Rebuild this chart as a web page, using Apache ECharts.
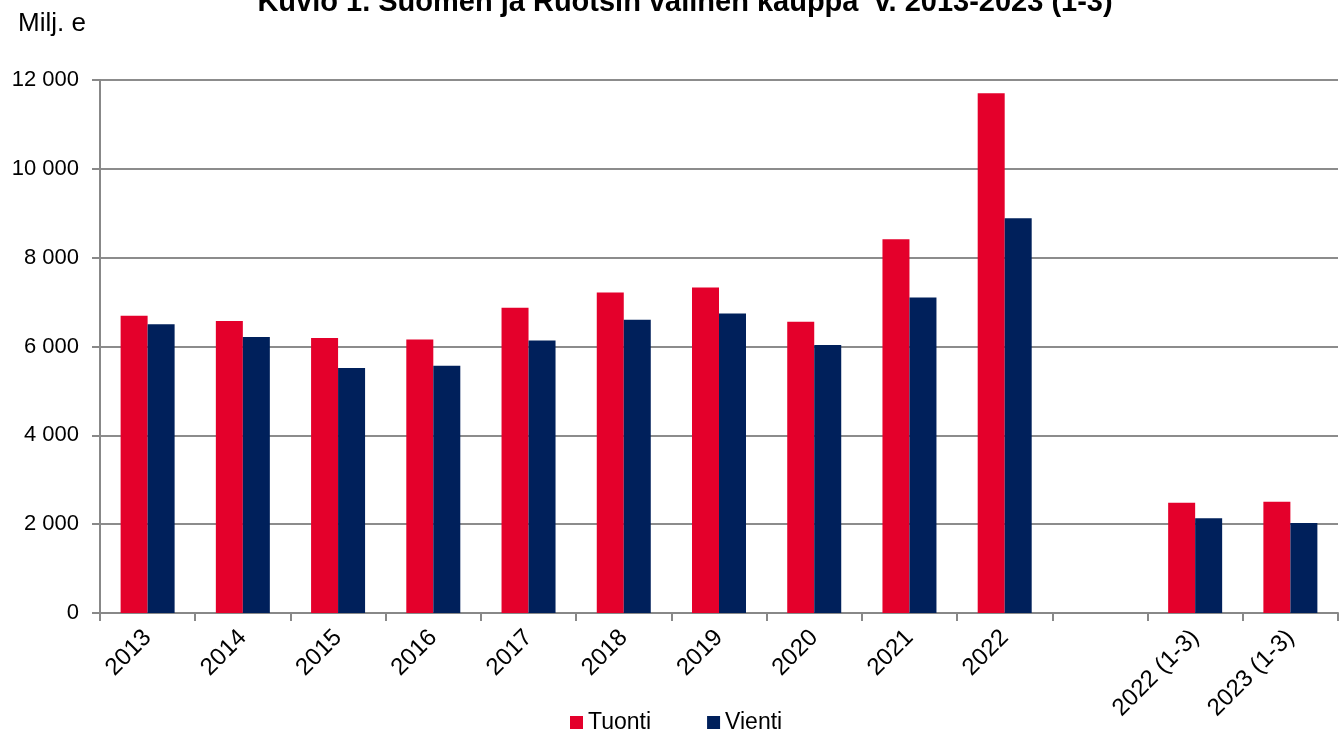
<!DOCTYPE html>
<html><head><meta charset="utf-8">
<script src="https://cdn.jsdelivr.net/npm/echarts@6/dist/echarts.min.js"></script>
<style>html,body{margin:0;padding:0;background:#fff}#c{width:1344px;height:735px}</style>
</head><body><div id="c"></div>
<script>
const categories = ['2013','2014','2015','2016','2017','2018','2019','2020','2021','2022','','2022 (1-3)','2023 (1-3)'];
const tuonti = [6690, 6575, 6190, 6155, 6870, 7215, 7330, 6555, 8415, 11700, '-', 2480, 2505];
const vienti = [6500, 6215, 5515, 5565, 6135, 6600, 6745, 6035, 7105, 8885, '-', 2135, 2025];
const yTicks = [0, 2000, 4000, 6000, 8000, 10000, 12000];

const FONT = 'Liberation Sans, Arial, sans-serif';
const chart = echarts.init(document.getElementById('c'));
const fmt = v => String(v).replace(/\B(?=(\d{3})+(?!\d))/g, ' ');
chart.setOption({
  animation: false,
  textStyle: { fontFamily: FONT },
  title: {
    text: 'Kuvio 1. Suomen ja Ruotsin välinen kauppa  v. 2013-2023 (1-3)',
    left: 680, textAlign: 'center', top: -17,
    textStyle: { fontSize: 29, fontWeight: 'bold', color: '#000', fontFamily: FONT }
  },
  graphic: [{ type: 'text', left: 18, top: 11, style: { text: 'Milj. e', fontSize: 26, fill: '#000', fontFamily: FONT } }],
  legend: {
    bottom: -4, left: 565, itemGap: 56, itemWidth: 13, itemHeight: 13, icon: 'rect',
    textStyle: { fontSize: 23, color: '#000', fontFamily: FONT },
    data: ['Tuonti', 'Vienti']
  },
  grid: { left: 100, right: 6, top: 80, bottom: 122 },
  xAxis: {
    type: 'category', data: categories,
    axisLine: { lineStyle: { color: '#888', width: 2 } },
    axisTick: { show: true, length: 8, lineStyle: { color: '#888', width: 2 } },
    axisLabel: { rotate: 45, fontSize: 24, color: '#000', margin: 21, interval: 0, fontFamily: FONT }
  },
  yAxis: {
    type: 'value', min: 0, max: 12000, interval: 2000,
    axisLine: { show: true, lineStyle: { color: '#888', width: 2 } },
    axisTick: { show: true, length: 8, lineStyle: { color: '#888', width: 2 } },
    splitLine: { lineStyle: { color: '#8c8c8c', width: 2 } },
    axisLabel: { fontSize: 22, color: '#000', margin: 21, fontFamily: FONT, formatter: v => yTicks.includes(v) ? fmt(v) : '' }
  },
  series: [
    { name: 'Tuonti', type: 'bar', data: tuonti, barWidth: 27, barGap: '0%', itemStyle: { color: '#E4002B' } },
    { name: 'Vienti', type: 'bar', data: vienti, barWidth: 27, barGap: '0%', itemStyle: { color: '#00205B' } }
  ]
});
</script></body></html>
